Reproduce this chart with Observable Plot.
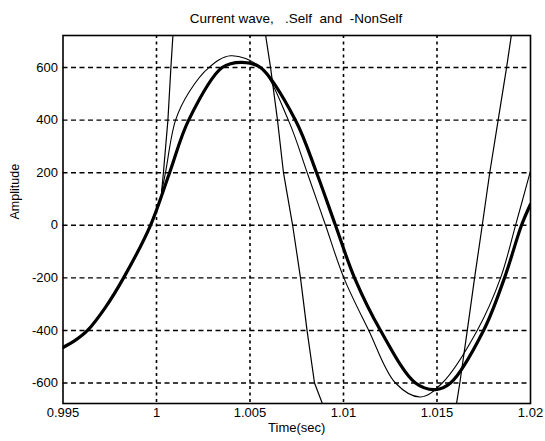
<!DOCTYPE html>
<html><head><meta charset="utf-8">
<script src="https://cdn.jsdelivr.net/npm/d3@7"></script>
<script src="https://cdn.jsdelivr.net/npm/@observablehq/plot@0.6"></script>
<style>
body{margin:0;background:#fff;font-family:"Liberation Sans",Arial,sans-serif;}
#title{width:545px;height:28px;line-height:1;padding-top:12px;font-size:13.5px;text-align:center;padding-left:47px;box-sizing:border-box;color:#000;white-space:pre;}
</style></head><body>
<div id="title">Current wave,   .Self  and  -NonSelf</div>
<div id="chart"></div>
<script>
const xTicks = [0.995, 1, 1.005, 1.01, 1.015, 1.02];
const yTicks = [-600, -400, -200, 0, 200, 400, 600];
const xLabel = "Time(sec)";
const yLabel = "Amplitude";

// thick curve
const thickT = [0.99500, 0.99567, 0.99631, 0.99727, 0.99824, 0.99968, 1.00070, 1.00172, 1.00351, 1.00458, 1.00556, 1.00743, 1.00856, 1.00957, 1.01059, 1.01198, 1.01385, 1.01492, 1.01572, 1.01749, 1.01861, 1.01952, 1.02000];
const thickV = [-465, -437, -400, -312, -200, 0, 200, 400, 600, 620, 600, 400, 200, 0, -200, -400, -600, -625, -600, -400, -200, 0, 80];

// thin curve
const thinT = [1.00027, 1.00048, 1.00102, 1.00177, 1.00280, 1.00396, 1.00556, 1.00705, 1.00806, 1.00904, 1.01002, 1.01135, 1.01278, 1.01412, 1.01528, 1.01715, 1.01840, 1.01920, 1.02000];
const thinV = [126, 200, 400, 510, 600, 645, 600, 400, 200, 0, -200, -400, -600, -653, -600, -400, -200, 0, 207];

// steep curve (extends beyond the axes)
const steepT = [1.00027, 1.00037, 1.00061, 1.00077, 1.00088, 1.0034, 1.00583, 1.00610, 1.00647, 1.00679, 1.00728, 1.00770, 1.00805, 1.00845, 1.00888, 1.0125, 1.01604, 1.01622, 1.01662, 1.01701, 1.01742, 1.01782, 1.01827, 1.01872, 1.01898, 1.0205];
const steepV = [126, 200, 400, 600, 725, 2000, 725, 600, 400, 200, 0, -200, -400, -600, -680, -1900, -680, -600, -400, -200, 0, 200, 400, 600, 725, 1600];

const thick = thickT.map((t, i) => ({t, v: thickV[i]}));
const thin = thinT.map((t, i) => ({t, v: thinV[i]}));
const steep = steepT.map((t, i) => ({t, v: steepV[i]}));

const fmt = d => String(d);
const chart = Plot.plot({
  width: 545,
  height: 413,
  marginTop: 7,
  marginBottom: 38,
  marginLeft: 62.5,
  marginRight: 15,
  style: {fontFamily: "'Liberation Sans', Arial, sans-serif", fontSize: "13px", color: "#000", background: "#fff"},
  x: {domain: [0.995, 1.02]},
  y: {domain: [-678, 722]},
  marks: [
    Plot.ruleX(xTicks.slice(1, -1), {stroke: "#000", strokeWidth: 1.6, strokeDasharray: "3,3.5"}),
    Plot.ruleY(yTicks, {stroke: "#000", strokeWidth: 1.4, strokeDasharray: "5,3.5"}),
    Plot.line(steep, {x: "t", y: "v", stroke: "#000", strokeWidth: 1.2, clip: true}),
    Plot.line(thin, {x: "t", y: "v", stroke: "#000", strokeWidth: 1.1, curve: "catmull-rom", clip: true}),
    Plot.line(thick, {x: "t", y: "v", stroke: "#000", strokeWidth: 3.2, curve: "catmull-rom", clip: true}),
    Plot.frame({stroke: "#000", strokeWidth: 1.6}),
    Plot.axisX(xTicks, {tickSize: 0, tickPadding: 4, tickFormat: fmt, label: null, fontSize: 13}),
    Plot.axisY(yTicks, {tickSize: 0, tickPadding: 5, tickFormat: fmt, label: null, fontSize: 13}),
    Plot.text([xLabel], {frameAnchor: "bottom", dy: 28, fontSize: 13}),
    Plot.text([yLabel], {frameAnchor: "left", dx: -48, rotate: -90, fontSize: 12.5})
  ]
});
document.getElementById("chart").appendChild(chart);
</script>
</body></html>
